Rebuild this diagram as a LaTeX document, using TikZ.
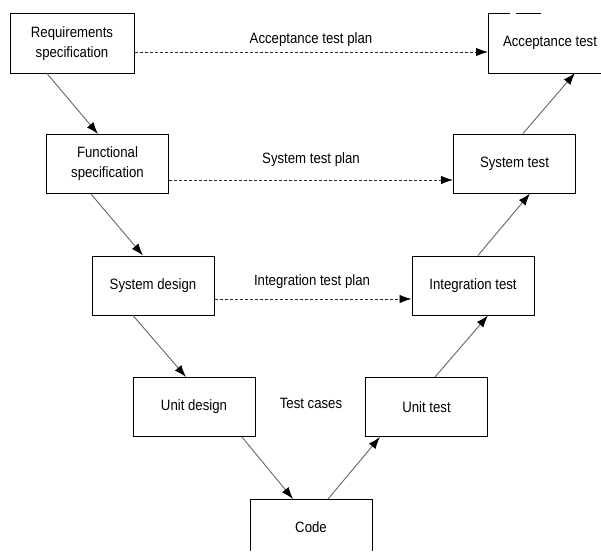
\documentclass[tikz,border=0pt]{standalone}
\usepackage{fontspec}
\setmainfont{Liberation Sans}[FakeStretch=0.88]
\usetikzlibrary{arrows.meta,calc}
\newcommand{\vlbl}{\fontsize{15}{20}\selectfont}
\tikzset{
  box/.style={draw=black, line width=1pt, minimum width=122pt, minimum height=59pt, inner sep=0pt, align=center, font=\vlbl},
  lbl/.style={inner sep=0pt, align=center, font=\vlbl},
  frame/.style={draw=black, line width=1pt},
  flow/.style={draw=black!60, line width=0.9pt, -{Latex[length=12pt,width=8.5pt,color=black]}},
  plan/.style={draw=black!85, line width=0.9pt, dash pattern=on 3pt off 2pt, -{Latex[length=12pt,width=8.5pt,color=black]}},
}
\begin{document}
\begin{tikzpicture}[x=1pt,y=-1pt]
\useasboundingbox (0,0) rectangle (601,551);
\fill[white] (0,0) rectangle (601,551);
% left branch
\node[box, minimum width=124pt] (req) at (72,43.5) {Requirements\\specification};
\node[box] (func) at (107.5,164) {Functional\\specification};
\node[box] (sysd) at (153,285.5) {System design};
\node[box] (unitd) at (194,407) {Unit design};
% right branch
\node[box] (unitt) at (426.5,407) {Unit test};
\node[box] (intt) at (473,285.5) {Integration test};
\node[box] (syst) at (514.5,163.5) {System test};
% acceptance test (partly cut off)
\draw[frame] (510,14) -- (488,14) -- (488,73) -- (601,73);
\draw[frame] (516,14) -- (541,14);
\node[lbl] (acc) at (550,43) {Acceptance test};
\coordinate (accL) at (488,52);
\coordinate (accB) at (575,73);
% code (cut off)
\draw[frame] (250,551) -- (250,499) -- (372,499) -- (372,551);
\node[lbl] (code) at (311,527) {Code};
\coordinate (codeA) at (293,499);
\coordinate (codeB) at (328,499);
% labels
\node[lbl] (p1) at (311,40) {Acceptance test plan};
\node[lbl] (p2) at (311,160) {System test plan};
\node[lbl] (p3) at (312,282) {Integration test plan};
\node[lbl] (tc) at (311,403) {Test cases};
% solid flow
\draw[flow] ($(req.south)+(-25,0)$) -- ($(func.north)+(-9.5,0)$);
\draw[flow] ($(func.south)+(-16.5,0)$) -- ($(sysd.north)+(-10,0)$);
\draw[flow] ($(sysd.south)+(-20,0)$) -- ($(unitd.north)+(-8,0)$);
\draw[flow] ($(unitd.south)+(48,0)$) -- (codeA);
\draw[flow] (codeB) -- ($(unitt.south)+(-46.5,0)$);
\draw[flow] ($(unitt.north)+(8.5,0)$) -- ($(intt.south)+(15,0)$);
\draw[flow] ($(intt.north)+(5,0)$) -- ($(syst.south)+(15.5,0)$);
\draw[flow] ($(syst.north)+(8.5,0)$) -- (accB);
% dashed plans
\draw[plan] ($(req.east)+(0,8.5)$) -- (accL);
\coordinate (f1) at ($(func.east)+(0,16)$);
\draw[plan] (f1) -- (f1 -| syst.west);
\coordinate (s1) at ($(sysd.east)+(0,13.5)$);
\draw[plan] (s1) -- (s1 -| intt.west);
\end{tikzpicture}
\end{document}
